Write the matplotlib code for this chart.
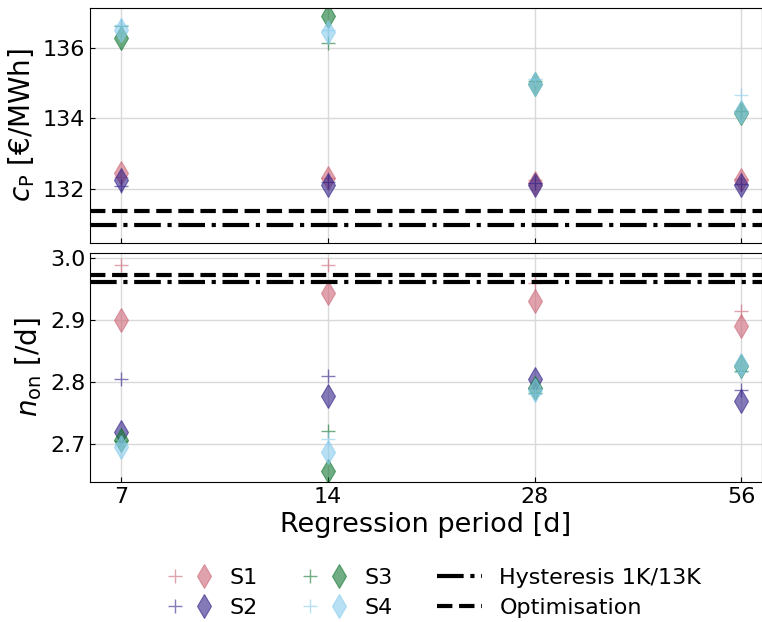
import numpy as np
import matplotlib.pyplot as plt
from matplotlib.legend_handler import HandlerTuple
from matplotlib.lines import Line2D

# Data ----------------------------------------------------------------
periods = ["7", "14", "28", "56"]
series = ["S1", "S2", "S3", "S4"]
colors = ["#CC6677", "#332288", "#117733", "#88CCEE"]

# c_P [EUR/MWh]: + markers and diamond markers
cp_plus = {
    "S1": [132.35, 132.30, 132.26, 132.28],
    "S2": [132.09, 132.20, 132.18, 132.15],
    "S3": [136.62, 136.13, 135.05, 134.20],
    "S4": [136.65, 136.50, 135.12, 134.67],
}
cp_diam = {
    "S1": [132.44, 132.30, 132.16, 132.25],
    "S2": [132.26, 132.11, 132.12, 132.12],
    "S3": [136.27, 136.89, 134.98, 134.15],
    "S4": [136.51, 136.45, 134.98, 134.18],
}
cp_hyst = 130.98
cp_opt = 131.38

# n_on [/d]
n_plus = {
    "S1": [2.989, 2.989, 2.960, 2.915],
    "S2": [2.805, 2.809, 2.790, 2.787],
    "S3": [2.705, 2.721, 2.782, 2.818],
    "S4": [2.700, 2.709, 2.780, 2.816],
}
n_diam = {
    "S1": [2.900, 2.944, 2.931, 2.890],
    "S2": [2.720, 2.777, 2.805, 2.769],
    "S3": [2.706, 2.656, 2.790, 2.826],
    "S4": [2.695, 2.688, 2.788, 2.827],
}
n_hyst = 2.962
n_opt = 2.972

# Plot ----------------------------------------------------------------
plt.rcParams['font.size'] = 16
fig = plt.figure(figsize=(7.62, 6.22), dpi=100)
ax1 = fig.add_axes([90/762, 1-243/622, 672/762, 235/622])
ax2 = fig.add_axes([90/762, 1-482/622, 672/762, 229/622])

x = np.arange(len(periods))
alpha = 0.6

for ax, plus, diam, hyst, opt in [(ax1, cp_plus, cp_diam, cp_hyst, cp_opt),
                                   (ax2, n_plus, n_diam, n_hyst, n_opt)]:
    for s, c in zip(series, colors):
        ax.plot(x, plus[s], ls='none', marker='+', ms=10, mew=1.0, color=c, alpha=alpha)
        ax.plot(x, diam[s], ls='none', marker='d', ms=12, mew=0.8, color=c, alpha=alpha, mec=c)
    ax.axhline(hyst, color='black', ls='-.', lw=3)
    ax.axhline(opt, color='black', ls='--', lw=3)
    ax.grid(True, color='#d9d9d9', lw=1)
    ax.set_axisbelow(True)
    ax.set_xticks(x)
    ax.set_xlim(-0.15, 3.1)
    ax.tick_params(direction='in', labelsize=16)

ax1.set_xticklabels([])
ax1.set_ylim(130.47, 137.13)
ax1.set_yticks([132, 134, 136])
ax1.set_ylabel(r"$c_\mathrm{P}$ [€/MWh]", fontsize=20)

ax2.set_xticklabels(periods)
ax2.set_ylim(2.639, 3.008)
ax2.set_yticks([2.7, 2.8, 2.9, 3.0])
ax2.set_yticklabels(["2.7", "2.8", "2.9", "3.0"])
ax2.set_ylabel(r"$n_\mathrm{on}$ [/d]", fontsize=20)
ax2.set_xlabel("Regression period [d]", fontsize=19.5)

handles = []
for c in colors:
    hp = Line2D([], [], ls='none', marker='+', ms=10, mew=1.0, color=c, alpha=alpha)
    hd = Line2D([], [], ls='none', marker='d', ms=12, mew=0.8, color=c, alpha=alpha)
    handles.append((hp, hd))
handles.append(Line2D([], [], color='black', ls='-.', lw=3))
handles.append(Line2D([], [], color='black', ls='--', lw=3))
labels = series + ["Hysteresis 1K/13K", "Optimisation"]

fig.legend(handles, labels, ncol=3, loc='center', bbox_to_anchor=(0.57, 0.047),
           frameon=False, fontsize=16, handler_map={tuple: HandlerTuple(ndivide=None, pad=0.6)},
           columnspacing=2.0, handletextpad=0.8, labelspacing=0.45)

fig.savefig("out.png", dpi=100)
